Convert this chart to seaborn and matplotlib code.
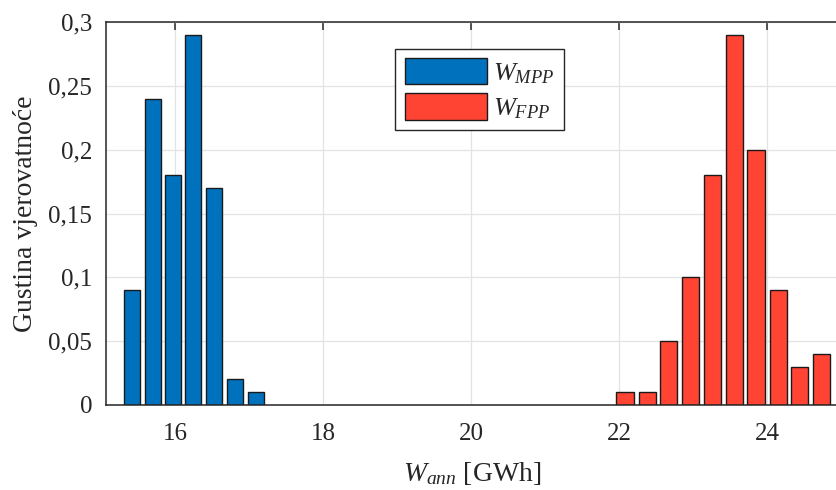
import numpy as np
import pandas as pd
import matplotlib
matplotlib.use("Agg")
import matplotlib.pyplot as plt
from matplotlib.patches import Patch
import seaborn as sns

# histogram bins (centres in GWh) and probability densities
mpp_x = [15.42, 15.70, 15.97, 16.25, 16.53, 16.81, 17.09]
mpp_p = [0.09, 0.24, 0.18, 0.29, 0.17, 0.02, 0.01]

fpp_x = [22.08, 22.38, 22.67, 22.97, 23.26, 23.56, 23.85, 24.15, 24.44, 24.74]
fpp_p = [0.01, 0.01, 0.05, 0.10, 0.18, 0.29, 0.20, 0.09, 0.03, 0.04]

x_ticks = [16, 18, 20, 22, 24]
y_ticks = [0, 0.05, 0.1, 0.15, 0.2, 0.25, 0.3]
y_tick_labels = ["0", "0,05", "0,1", "0,15", "0,2", "0,25", "0,3"]

blue = "#0072BD"
red = "#FF4433"

sns.set_theme(style="whitegrid")
plt.rcParams["font.family"] = ["Liberation Serif", "DejaVu Serif"]
plt.rcParams["mathtext.fontset"] = "custom"
plt.rcParams["mathtext.rm"] = "Liberation Serif"
plt.rcParams["mathtext.it"] = "Liberation Serif:italic"

fig = plt.figure(figsize=(8.37, 4.9), dpi=100)
# right spine falls just outside the canvas, as in the original export
ax = fig.add_axes([0.1266, 0.1735, 0.8757, 0.7815])

df_mpp = pd.DataFrame({"x": mpp_x, "p": mpp_p})
df_fpp = pd.DataFrame({"x": fpp_x, "p": fpp_p})

sns.barplot(data=df_mpp, x="x", y="p", native_scale=True, orient="x",
            color=blue, saturation=1, width=0.8, edgecolor="#1a1a1a",
            linewidth=1.0, ax=ax)
sns.barplot(data=df_fpp, x="x", y="p", native_scale=True, orient="x",
            color=red, saturation=1, width=0.8, edgecolor="#1a1a1a",
            linewidth=1.0, ax=ax)

ax.set_xlim(15.068, 24.97)
ax.set_ylim(0, 0.3)
ax.set_xticks(x_ticks)
ax.set_xticklabels([str(t) for t in x_ticks])
ax.set_yticks(y_ticks)
ax.set_yticklabels(y_tick_labels)

ax.grid(True, color="#e3e3e3", linewidth=0.9)
ax.set_axisbelow(True)
for s in ax.spines.values():
    s.set_color("#262626")
    s.set_linewidth(1.1)

ax.tick_params(axis="both", direction="in", length=6, width=1.1,
               color="#262626", labelsize=18, labelcolor="#262626",
               top=True, right=False, pad=10)
ax.tick_params(axis="x", pad=13)

ax.set_xlabel(r"$W_{ann}$ [GWh]", fontsize=20, color="#262626", labelpad=11)
ax.set_ylabel("Gustina vjerovatnoće", fontsize=20, color="#262626", labelpad=7)

handles = [Patch(facecolor=blue, edgecolor="#1a1a1a", linewidth=1.0),
           Patch(facecolor=red, edgecolor="#1a1a1a", linewidth=1.0)]
leg = ax.legend(handles, [r"$W_{MPP}$", r"$W_{FPP}$"],
                loc="upper left", bbox_to_anchor=(0.377, 0.965),
                fontsize=19, handlelength=3.1, handleheight=1.15,
                handletextpad=0.25, borderpad=0.35, labelspacing=0.3,
                frameon=True, fancybox=False, framealpha=1)
leg.get_frame().set_edgecolor("#262626")
leg.get_frame().set_linewidth(1.0)

fig.savefig("out.png", dpi=100)
